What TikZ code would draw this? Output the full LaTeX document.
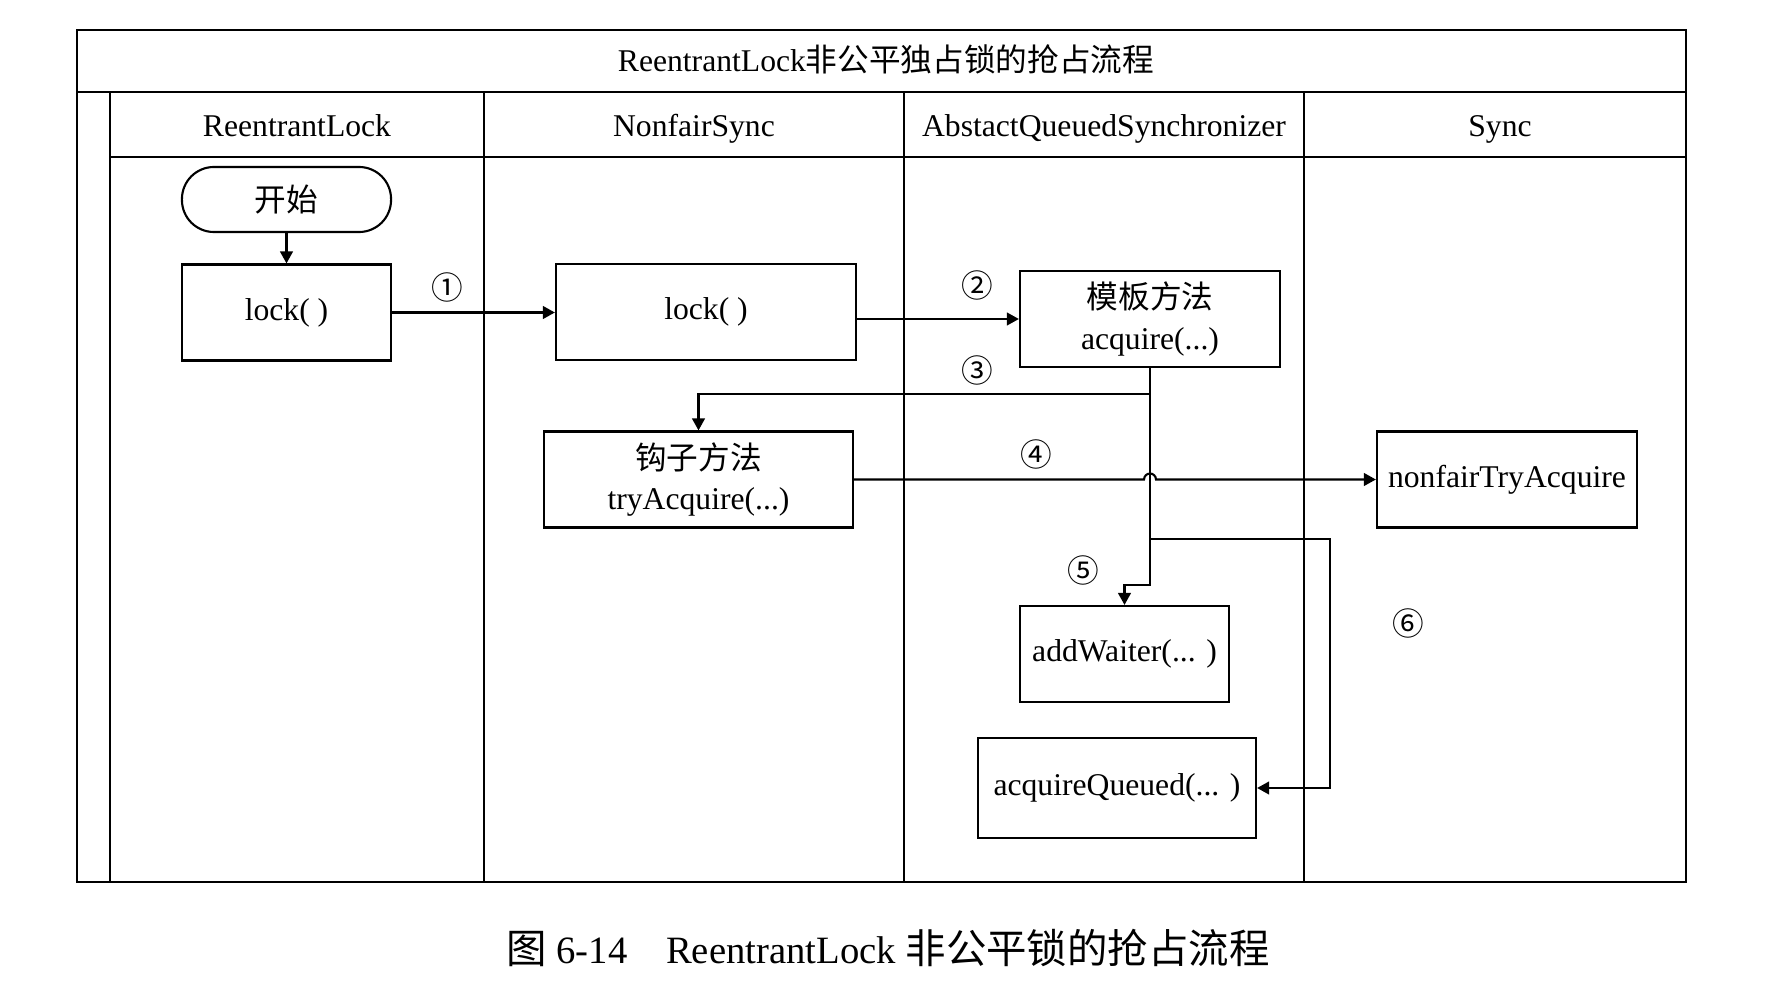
\documentclass[tikz,border=0pt]{standalone}
\usepackage{fontspec}
\setmainfont{Liberation Serif}
\newfontfamily\cjk{Noto Sans CJK SC}
\usetikzlibrary{arrows.meta}

\begin{document}
\begin{tikzpicture}
    [
        x=0.01cm, y=-0.01cm,
        every node/.style={font=\fontsize{9pt}{11.4pt}\selectfont, inner sep=0pt},
        box/.style={draw, line width=0.6pt, minimum width=#1, minimum height=0.96cm, align=center},
        terminal/.style={draw, line width=0.6pt, rounded corners=0.32cm, minimum width=2.09cm, minimum height=0.65cm},
        lanehead/.style={anchor=base},
        num/.style={font=\cjk\fontsize{9pt}{11pt}\selectfont},
        flow/.style={line width=0.6pt, -{Triangle[length=3.4pt, width=3.6pt]}},
        frame/.style={line width=0.7pt}
    ]

    \useasboundingbox (0,0) rectangle (1772,988);

    \draw[frame] (77,30) rectangle (1686,882);
    \draw[frame] (77,92) -- (1686,92);
    \draw[frame] (110,92) -- (110,882);
    \draw[frame] (110,157) -- (1686,157);
    \foreach \x in {484,904,1304}
        \draw[frame] (\x,92) -- (\x,882);

    \node[lanehead] (title) at (886,72) {ReentrantLock{\cjk 非公平独占锁的抢占流程}};
    \node[lanehead] (laneRL) at (297,137) {ReentrantLock};
    \node[lanehead] (laneNS) at (694,137) {NonfairSync};
    \node[lanehead] (laneAQS) at (1104,137) {AbstactQueuedSynchronizer};
    \node[lanehead] (laneS) at (1500,137) {Sync};

    \node[terminal] (start) at (286.5,199.5) {\cjk 开始};
    \node[box=2.09cm] (lockA) at (286.5,312.5) {lock( )};
    \node[box=3cm] (lockB) at (706,312) {lock( )};
    \node[box=2.6cm] (acq) at (1150,319) {{\cjk 模板方法}\\acquire(...)};
    \node[box=3.09cm] (hook) at (698.5,479.5) {{\cjk 钩子方法}\\tryAcquire(...)};
    \node[box=2.6cm] (nfta) at (1507,479.5) {nonfairTryAcquire};
    \node[box=2.09cm] (waiter) at (1124.5,654) {addWaiter(... )};
    \node[box=2.78cm, minimum height=1cm] (queued) at (1117,788) {acquireQueued(... )};

    \node[num] (n1) at (447,287) {①};
    \node[num] (n2) at (977,285) {②};
    \node[num] (n3) at (977,370) {③};
    \node[num] (n4) at (1036,454) {④};
    \node[num] (n5) at (1083,570) {⑤};
    \node[num] (n6) at (1408,623) {⑥};

    \coordinate (turn3) at (1150,394);
    \coordinate (fork6) at (1150,539);
    \coordinate (turn5) at (1150,585);
    \coordinate (bend6) at (1330,539);

    \draw[flow] (start.south) -- (lockA.north);
    \draw[flow] (lockA.east) -- (lockA.east -| lockB.west);
    \draw[flow] (lockB.east |- acq.west) -- (acq.west);
    \draw[flow] (acq.south) -- (turn3) -| (hook.north);
    \draw[flow] (hook.east) -- ([xshift=-1.7pt]hook.east -| acq.south)
        arc[start angle=180, end angle=0, radius=1.7pt] -- (nfta.west);
    \draw[flow] (turn3) -- (turn5) -| (waiter.north);
    \draw[flow] (fork6) -- (bend6) |- (queued.east);

    \node[lanehead, font=\fontsize{11pt}{13pt}\selectfont] (caption) at (888,963)
        {{\cjk\fontsize{11.5pt}{13pt}\selectfont 图} 6-14\quad ReentrantLock {\cjk\fontsize{11.5pt}{13pt}\selectfont 非公平锁的抢占流程}};
\end{tikzpicture}
\end{document}
